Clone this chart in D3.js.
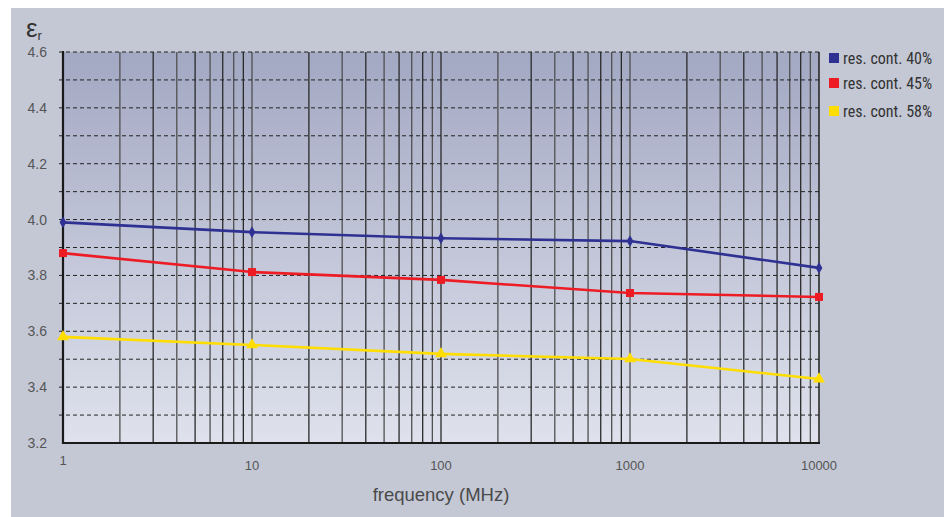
<!DOCTYPE html>
<html><head><meta charset="utf-8">
<script src="https://cdn.jsdelivr.net/npm/d3@7"></script>
<style>html,body{margin:0;padding:0;background:#fff;}svg{display:block;}</style>
</head><body>
<svg id="c" width="949" height="517"></svg>
<script>
const frequencies = [1, 10, 100, 1000, 10000];
const seriesNames = ["res. cont. 40%", "res. cont. 45%", "res. cont. 58%"];
const seriesColors = ["#2e3192", "#ed1c24", "#ffdd00"];
const seriesMarkers = ["diamond", "square", "triangle"];
const res40 = [3.99, 3.955, 3.933, 3.923, 3.827];
const res45 = [3.88, 3.812, 3.784, 3.737, 3.723];
const res58 = [3.58, 3.551, 3.519, 3.501, 3.429];
const yTicks = [3.2, 3.4, 3.6, 3.8, 4.0, 4.2, 4.4, 4.6];
const xTickLabels = ["1", "10", "100", "1000", "10000"];

const svg = d3.select("#c");
const L = 63, R = 819, T = 52, B = 443;
const x = d3.scaleLog().domain([1, 10000]).range([L, R]);
const y = d3.scaleLinear().domain([3.2, 4.6]).range([B, T]);

// background panel
svg.append("rect").attr("x", 11).attr("y", 8).attr("width", 933).attr("height", 509).attr("fill", "#c4c8d5");

const defs = svg.append("defs");
const g = defs.append("linearGradient").attr("id", "bg").attr("x1", 0).attr("y1", 0).attr("x2", 0).attr("y2", 1);
g.append("stop").attr("offset", "0%").attr("stop-color", "#a3a8c3");
g.append("stop").attr("offset", "100%").attr("stop-color", "#dfe2ec");
svg.append("rect").attr("x", L).attr("y", T).attr("width", R - L).attr("height", B - T).attr("fill", "url(#bg)");

// vertical grid lines (log minor)
const vLines = [];
for (let d = 1; d < 10000; d *= 10) for (let k = 1; k <= 9; k++) vLines.push(d * k);
vLines.push(10000);
svg.append("g").selectAll("line").data(vLines).join("line")
  .attr("x1", d => x(d)).attr("x2", d => x(d)).attr("y1", T).attr("y2", B)
  .attr("stroke", (d, i) => (i % 2 ? "#505050" : "#2a2a2a"))
  .attr("stroke-width", (d) => (d === 10000 ? 1.6 : 1.3));

// horizontal dashed grid
const hVals = d3.range(33, 47).map(v => v / 10);
svg.append("g").selectAll("line").data(hVals).join("line")
  .attr("x1", L - 4).attr("x2", R).attr("y1", d => y(d)).attr("y2", d => y(d))
  .attr("stroke", "#222").attr("stroke-width", 1).attr("stroke-dasharray", "4,3");

// axes lines
svg.append("line").attr("x1", L).attr("x2", L).attr("y1", T - 1).attr("y2", B + 1).attr("stroke", "#1a1a1a").attr("stroke-width", 2.2);
svg.append("line").attr("x1", L - 1).attr("x2", R + 1).attr("y1", B).attr("y2", B).attr("stroke", "#1a1a1a").attr("stroke-width", 2.2);

// y axis labels
const font = "'Liberation Sans', Arial, sans-serif";
svg.append("g").selectAll("text").data(yTicks).join("text")
  .attr("x", 47).attr("y", d => y(d) + 5).attr("text-anchor", "end")
  .attr("font-family", font).attr("font-size", 14).attr("fill", "#555")
  .text(d => d.toFixed(1));

// x axis labels
svg.append("g").selectAll("text").data(frequencies).join("text")
  .attr("x", d => x(d)).attr("y", (d, i) => (i === 0 ? 465 : 470)).attr("text-anchor", "middle")
  .attr("font-family", font).attr("font-size", 13).attr("fill", "#555")
  .text((d, i) => xTickLabels[i]);

// axis titles
svg.append("text").attr("x", 441).attr("y", 501).attr("text-anchor", "middle")
  .attr("font-family", font).attr("font-size", 18.5).attr("fill", "#4a4a4a").text("frequency (MHz)");
const eps = svg.append("text").attr("x", 26).attr("y", 37).attr("font-family", font).attr("fill", "#333");
eps.append("tspan").attr("font-size", 26).text("ε");
eps.append("tspan").attr("font-size", 13).attr("dy", 3).text("r");

// series
const allSeries = [res40, res45, res58];
const line = d3.line().x((d, i) => x(frequencies[i])).y(d => y(d));
allSeries.forEach((vals, si) => {
  const col = seriesColors[si];
  svg.append("path").datum(vals).attr("d", line).attr("fill", "none")
    .attr("stroke", col).attr("stroke-width", 2.6);
  const sym = seriesMarkers[si] === "diamond" ? d3.symbolDiamond : seriesMarkers[si] === "square" ? d3.symbolSquare : d3.symbolTriangle;
  const size = seriesMarkers[si] === "diamond" ? 40 : seriesMarkers[si] === "square" ? 64 : 60;
  svg.append("g").selectAll("path").data(vals).join("path")
    .attr("transform", (d, i) => `translate(${x(frequencies[i])},${y(d)})`)
    .attr("d", d3.symbol().type(sym).size(size)).attr("fill", col);
});

// legend
const lg = svg.append("g");
const rowY = [58, 83, 111];
seriesNames.forEach((n, i) => {
  lg.append("rect").attr("x", 829).attr("y", rowY[i] - 5).attr("width", 10).attr("height", 10).attr("fill", seriesColors[i]);
  lg.append("text").attr("x", 843).attr("y", rowY[i] + 5.5).attr("font-family", "'Liberation Sans Narrow', 'Roboto Condensed', Roboto, sans-serif")
    .attr("font-size", 16).attr("fill", "#333").text(n);
});
</script>
</body></html>
